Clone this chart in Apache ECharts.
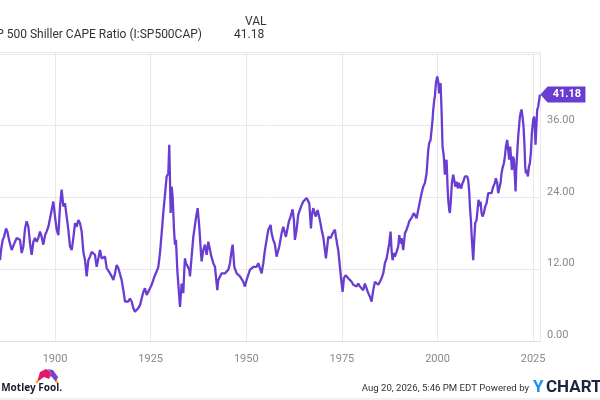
<!DOCTYPE html>
<html>
<head>
<meta charset="utf-8">
<style>
  html, body { margin: 0; padding: 0; background: #fff; }
  #main { width: 600px; height: 400px; }
</style>
<script src="https://cdn.jsdelivr.net/npm/echarts@6/dist/echarts.min.js"></script>
</head>
<body>
<div id="main"></div>
<script>
// S&P 500 Shiller CAPE ratio (decimal years)
var years = [
  1885.62, 1885.89, 1886.32, 1886.67, 1887.19, 1887.54, 1887.98, 1888.24, 1888.67, 1889.11,
  1889.55, 1889.98, 1890.42, 1890.85, 1891.29, 1891.72, 1892.16, 1892.59, 1893.03, 1893.47,
  1893.90, 1894.34, 1894.77, 1895.21, 1895.64, 1896.08, 1896.51, 1896.95, 1897.39, 1897.82,
  1898.26, 1898.69, 1899.13, 1899.56, 1900.00, 1900.44, 1900.87, 1901.31, 1901.74, 1902.18,
  1902.61, 1903.05, 1903.48, 1903.92, 1904.36, 1904.79, 1905.23, 1905.66, 1906.10, 1906.53,
  1906.97, 1907.41, 1907.84, 1908.28, 1908.71, 1909.15, 1909.58, 1910.02, 1910.45, 1910.89,
  1911.33, 1911.76, 1912.20, 1912.63, 1913.07, 1913.50, 1913.94, 1914.38, 1914.81, 1915.25,
  1915.68, 1916.12, 1916.55, 1916.99, 1917.42, 1917.86, 1918.30, 1918.73, 1919.17, 1919.60,
  1920.04, 1920.47, 1920.91, 1921.35, 1921.78, 1922.22, 1922.65, 1923.09, 1923.52, 1923.96,
  1924.39, 1924.83, 1925.27, 1925.70, 1926.14, 1926.57, 1927.01, 1927.44, 1927.88, 1928.31,
  1929.19, 1929.62, 1929.87, 1930.23, 1930.50, 1930.75, 1931.11, 1931.36, 1931.62, 1931.97,
  1932.23, 1932.67, 1932.93, 1933.10, 1933.54, 1933.80, 1933.97, 1934.24, 1934.67, 1935.11,
  1935.28, 1935.72, 1936.16, 1936.77, 1937.29, 1937.72, 1938.16, 1938.33, 1938.77, 1939.20,
  1939.64, 1940.08, 1940.25, 1940.77, 1941.38, 1941.82, 1942.43, 1942.69, 1943.56, 1944.43,
  1945.31, 1945.74, 1946.18, 1946.44, 1946.88, 1947.49, 1948.35, 1949.22, 1949.66, 1950.09,
  1950.96, 1951.84, 1952.71, 1953.14, 1953.58, 1954.01, 1954.45, 1954.88, 1955.32, 1955.76,
  1956.37, 1956.63, 1957.06, 1957.50, 1957.93, 1958.19, 1958.63, 1959.24, 1959.67, 1960.37,
  1960.72, 1961.16, 1961.59, 1962.11, 1962.46, 1962.72, 1963.16, 1963.59, 1964.03, 1964.47,
  1964.91, 1965.34, 1965.78, 1966.21, 1966.48, 1966.91, 1967.17, 1967.52, 1967.78, 1968.13,
  1968.39, 1968.65, 1969.00, 1969.26, 1969.52, 1969.70, 1970.13, 1970.57, 1970.83, 1971.18,
  1971.44, 1971.70, 1972.05, 1972.31, 1972.57, 1972.92, 1973.18, 1973.45, 1973.79, 1974.05,
  1974.49, 1974.93, 1975.19, 1975.54, 1975.97, 1976.23, 1976.67, 1977.11, 1977.54, 1977.98,
  1978.41, 1978.85, 1979.28, 1979.72, 1980.15, 1980.59, 1981.02, 1981.46, 1981.90, 1982.33,
  1982.77, 1983.20, 1983.64, 1984.07, 1984.51, 1984.94, 1985.38, 1985.82, 1986.25, 1986.69,
  1987.12, 1987.38, 1987.73, 1987.99, 1988.26, 1988.60, 1988.87, 1989.30, 1989.74, 1990.00,
  1990.35, 1990.61, 1991.04, 1991.48, 1991.92, 1992.35, 1992.61, 1992.96, 1993.40, 1993.83,
  1994.27, 1994.53, 1994.96, 1995.40, 1995.84, 1996.27, 1996.71, 1997.14, 1997.58, 1997.84,
  1998.19, 1998.45, 1998.71, 1998.88, 1999.15, 1999.32, 1999.58, 1999.93, 2000.19, 2000.45,
  2000.63, 2000.80, 2001.06, 2001.32, 2001.67, 2001.93, 2002.20, 2002.37, 2002.63, 2002.81,
  2003.07, 2003.24, 2003.50, 2003.76, 2004.11, 2004.37, 2004.64, 2004.81, 2005.07, 2005.33,
  2005.59, 2005.86, 2006.20, 2006.55, 2006.90, 2007.16, 2007.42, 2007.77, 2008.03, 2008.29,
  2008.47, 2008.73, 2008.99, 2009.34, 2009.60, 2009.86, 2010.21, 2010.47, 2010.73, 2011.00,
  2011.26, 2011.52, 2011.78, 2012.13, 2012.48, 2012.82, 2013.26, 2013.70, 2014.13, 2014.57,
  2015.00, 2015.26, 2015.61, 2015.87, 2016.14, 2016.48, 2016.74, 2017.01, 2017.35, 2017.62,
  2017.88, 2018.23, 2018.49, 2018.75, 2019.01, 2019.27, 2019.45, 2019.71, 2019.97, 2020.23,
  2020.41, 2020.58, 2020.84, 2021.10, 2021.36, 2021.54, 2021.80, 2021.97, 2022.23, 2022.50,
  2022.76, 2022.93, 2023.11, 2023.37, 2023.63, 2023.89, 2024.15, 2024.41, 2024.67, 2025.02,
  2025.28, 2025.46, 2025.63, 2025.81, 2026.07, 2026.33, 2026.59, 2026.78
];
var cape = [
  13.5, 15.2, 16.9, 17.4, 18.8, 18.3, 16.9, 16.6, 15.2, 15.5,
  16.6, 17.2, 17.4, 16.9, 14.7, 15.8, 18.8, 20.0, 19.1, 16.3,
  14.4, 16.6, 17.2, 16.6, 17.2, 18.3, 17.4, 16.1, 17.7, 18.3,
  19.1, 19.4, 21.9, 23.3, 20.8, 18.6, 17.7, 22.5, 25.3, 22.5,
  23.0, 20.8, 18.6, 15.8, 15.2, 17.2, 19.7, 19.1, 20.2, 19.7,
  18.3, 14.9, 13.5, 10.8, 13.5, 14.1, 14.9, 15.2, 14.4, 12.4,
  13.8, 15.2, 13.8, 13.8, 14.1, 12.2, 11.9, 11.3, 10.8, 10.2,
  11.3, 12.7, 12.2, 11.9, 10.2, 8.5, 6.6, 6.3, 6.6, 7.1,
  6.6, 5.5, 4.9, 5.2, 5.5, 6.0, 7.1, 8.2, 8.8, 7.7,
  7.7, 8.8, 9.4, 10.2, 11.0, 11.6, 12.4, 14.7, 18.0, 21.4,
  27.5, 28.0, 32.8, 21.4, 25.8, 24.1, 18.6, 16.1, 16.9, 11.9,
  9.6, 5.7, 8.0, 9.6, 8.0, 11.9, 13.8, 13.0, 13.3, 11.9,
  10.8, 14.1, 17.4, 20.2, 22.2, 19.1, 14.7, 13.3, 15.2, 16.1,
  14.4, 16.6, 16.9, 14.4, 13.0, 12.4, 8.5, 10.2, 11.3, 11.3,
  11.9, 13.0, 15.2, 16.1, 12.4, 11.3, 10.8, 9.9, 9.1, 10.2,
  11.9, 12.4, 12.4, 13.0, 12.7, 11.3, 13.0, 15.2, 16.9, 18.6,
  19.4, 18.0, 16.9, 16.1, 14.1, 13.8, 15.8, 18.0, 19.1, 17.4,
  18.6, 20.0, 20.8, 22.0, 20.2, 16.9, 18.6, 21.1, 21.9, 22.7,
  23.3, 23.6, 23.9, 24.1, 23.0, 18.8, 21.1, 22.2, 21.6, 20.8,
  20.5, 21.9, 22.2, 20.2, 20.2, 18.6, 17.4, 15.2, 13.8, 15.8,
  17.4, 17.7, 17.2, 16.9, 18.0, 18.3, 18.6, 17.4, 16.1, 15.2,
  12.4, 9.6, 8.2, 10.5, 11.0, 10.8, 10.5, 10.2, 9.9, 9.4,
  9.4, 9.1, 9.6, 9.1, 9.1, 8.5, 9.6, 8.8, 8.0, 7.4,
  6.6, 8.5, 9.9, 9.6, 9.4, 9.9, 10.5, 11.3, 13.0, 13.8,
  14.1, 16.3, 18.3, 15.2, 13.5, 14.7, 14.1, 14.9, 15.8, 17.7,
  16.3, 17.2, 15.2, 18.0, 18.6, 19.4, 20.0, 19.7, 20.8, 21.4,
  21.1, 20.5, 20.2, 23.3, 24.7, 25.8, 26.4, 28.0, 31.9, 33.1,
  33.6, 33.6, 37.0, 38.6, 40.3, 40.9, 43.1, 44.2, 43.4, 41.4,
  42.0, 43.1, 38.6, 32.5, 30.8, 27.8, 29.1, 30.3, 25.8, 23.6,
  21.9, 21.4, 23.6, 26.4, 27.8, 26.9, 25.8, 25.8, 26.6, 25.5,
  26.4, 26.1, 25.5, 26.4, 26.9, 27.5, 27.8, 27.5, 26.9, 25.0,
  22.5, 20.2, 16.9, 13.5, 16.9, 19.7, 20.2, 21.9, 23.6, 22.5,
  23.3, 21.4, 20.8, 21.4, 22.5, 23.0, 24.7, 25.0, 24.7, 25.8,
  26.4, 27.2, 26.4, 24.7, 24.4, 26.4, 28.0, 28.9, 29.7, 30.8,
  32.5, 33.6, 31.9, 30.3, 32.5, 30.3, 28.6, 30.8, 30.3, 27.5,
  25.0, 28.6, 31.4, 34.2, 36.1, 37.5, 38.3, 38.7, 37.5, 35.8,
  32.5, 29.1, 28.0, 28.6, 27.5, 29.1, 29.7, 31.4, 34.7, 37.0,
  37.5, 35.8, 32.8, 35.3, 38.6, 39.2, 40.3, 41.18
];
var lastValue = 41.18;
var seriesName = 'S&P 500 Shiller CAPE Ratio (I:SP500CAP)';

var purple = '#6a3dd2';
var gridColor = '#e9e9e9';
var labelColor = '#8a8a8a';

var points = years.map(function (y, i) { return [y, cape[i]]; });

var myChart = echarts.init(document.getElementById('main'));

var option = {
  animation: false,
  backgroundColor: '#fff',
  textStyle: { fontFamily: 'Roboto' },
  grid: { left: -40.6, right: 60, top: 52, bottom: 59, outerBoundsMode: 'none' },
  xAxis: {
    type: 'value',
    min: 1875,
    max: 2026.8,
    interval: 25,
    axisLine: { show: true, lineStyle: { color: '#dedede' } },
    axisTick: { show: false },
    splitLine: { show: true, lineStyle: { color: gridColor } },
    axisLabel: {
      color: labelColor,
      fontSize: 11,
      margin: 13,
      showMaxLabel: false,
      formatter: function (v) { return v % 25 === 0 ? String(v) : ''; }
    }
  },
  yAxis: {
    type: 'value',
    position: 'right',
    min: 0,
    max: 48.3,
    interval: 12,
    axisLine: { show: false },
    axisTick: { show: false },
    splitLine: { show: true, lineStyle: { color: gridColor } },
    axisLabel: {
      color: labelColor,
      fontSize: 11,
      margin: 7,
      verticalAlign: 'bottom',
      formatter: function (v) { return v < 45 ? v.toFixed(2) : ''; }
    }
  },
  series: [{
    name: seriesName,
    type: 'line',
    data: points,
    symbol: 'none',
    lineStyle: { color: purple, width: 2.3 },
    markPoint: {
      symbol: 'path://M0,8 L7,0 L44,0 L44,16 L7,16 Z',
      symbolSize: [45, 16],
      symbolOffset: [23, 0],
      itemStyle: { color: purple },
      label: {
        show: true,
        color: '#fff',
        fontWeight: 'bold',
        fontSize: 11,
        offset: [4, 0],
        formatter: function (p) { return p.value.toFixed(2); }
      },
      data: [{ coord: [years[years.length - 1], lastValue], value: lastValue }]
    }
  }],
  graphic: [
    { type: 'text', right: 398, top: 29, style: { text: seriesName, fill: '#333', font: '12px Roboto', textAlign: 'right' } },
    { type: 'text', left: 245, top: 16, style: { text: 'VAL', fill: '#333', font: '12px Roboto' } },
    { type: 'text', left: 234, top: 29, style: { text: lastValue.toFixed(2), fill: '#333', font: '12px Roboto' } },
    // Motley Fool jester hat
    { type: 'polygon', shape: { points: [[37, 382], [40, 372], [46, 369], [51, 372], [49, 379], [44, 377]] }, style: { fill: '#e5176e' } },
    { type: 'polygon', shape: { points: [[47, 369], [53, 370], [58, 377], [56, 382], [51, 376], [49, 379], [51, 372]] }, style: { fill: '#7d3fc6' } },
    { type: 'circle', shape: { cx: 37, cy: 382, r: 1.4 }, style: { fill: '#f5b800' } },
    { type: 'circle', shape: { cx: 57, cy: 382, r: 1.4 }, style: { fill: '#f5b800' } },
    { type: 'text', right: 538, top: 383, style: { text: 'The Motley Fool.', fill: '#1b1b2e', font: 'bold 10px "Noto Sans"', textAlign: 'right' } },
    // footer
    { type: 'text', right: 71, top: 384, style: { text: 'Aug 20, 2026, 5:46 PM EDT Powered by', fill: '#333', font: '9.6px Roboto', textAlign: 'right' } },
    { type: 'text', left: 533, top: 379, style: { text: 'Y', fill: '#1f8ef1', font: 'bold 17px Roboto' } },
    { type: 'text', left: 546, top: 379, style: { text: 'CHARTS', fill: '#1c2541', font: 'bold 17px Roboto' } },
    { type: 'line', shape: { x1: 0, y1: 399, x2: 600, y2: 399 }, style: { stroke: '#e3e3e3', lineWidth: 1 } }
  ]
};
myChart.setOption(option);
</script>
</body>
</html>
